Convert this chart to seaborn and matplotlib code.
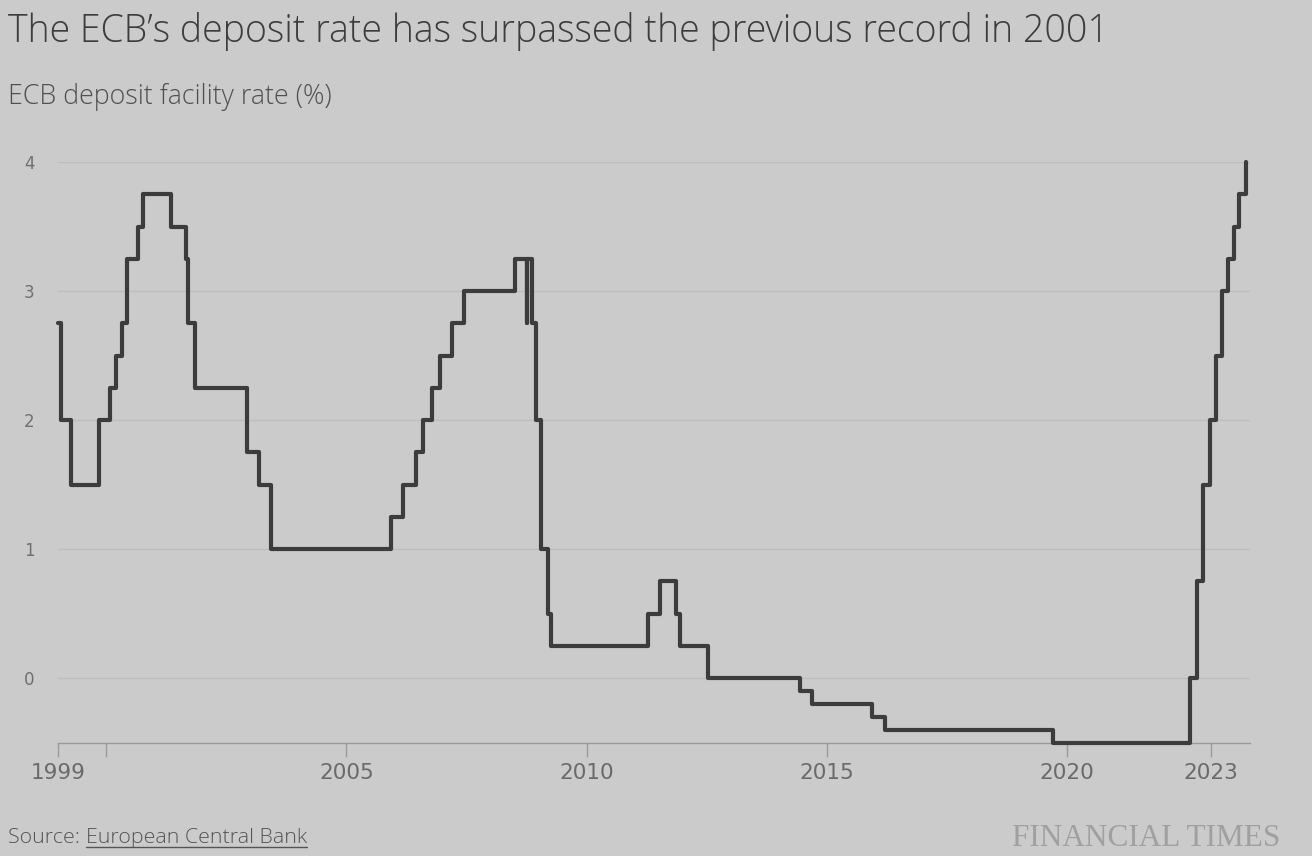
import matplotlib
matplotlib.use("Agg")
import matplotlib.pyplot as plt
import matplotlib.dates as mdates
from matplotlib.lines import Line2D
import pandas as pd
import seaborn as sns

# ECB policy decisions: date a new deposit rate took effect, and that rate (%)
change_dates = [
    "1999-01-04", "1999-01-22", "1999-04-09", "1999-11-05", "2000-02-04",
    "2000-03-17", "2000-04-28", "2000-06-09", "2000-09-01", "2000-10-06",
    "2001-05-11", "2001-08-31", "2001-09-18", "2001-11-09", "2002-12-06",
    "2003-03-07", "2003-06-06", "2005-12-06", "2006-03-08", "2006-06-15",
    "2006-08-09", "2006-10-11", "2006-12-13", "2007-03-14", "2007-06-13",
    "2008-07-09", "2008-10-08", "2008-10-09", "2008-11-12", "2008-12-10",
    "2009-01-21", "2009-03-11", "2009-04-08", "2011-04-13", "2011-07-13",
    "2011-11-09", "2011-12-14", "2012-07-11", "2014-06-11", "2014-09-10",
    "2015-12-09", "2016-03-16", "2019-09-18", "2022-07-27", "2022-09-14",
    "2022-11-02", "2022-12-21", "2023-02-08", "2023-03-22", "2023-05-10",
    "2023-06-21", "2023-08-02", "2023-09-20",
]
deposit_rate = [
    2.75, 2.00, 1.50, 2.00, 2.25,
    2.50, 2.75, 3.25, 3.50, 3.75,
    3.50, 3.25, 2.75, 2.25, 1.75,
    1.50, 1.00, 1.25, 1.50, 1.75,
    2.00, 2.25, 2.50, 2.75, 3.00,
    3.25, 2.75, 3.25, 2.75, 2.00,
    1.00, 0.50, 0.25, 0.50, 0.75,
    0.50, 0.25, 0.00, -0.10, -0.20,
    -0.30, -0.40, -0.50, 0.00, 0.75,
    1.50, 2.00, 2.50, 3.00, 3.25,
    3.50, 3.75, 4.00,
]

tick_years = [1999, 2000, 2005, 2010, 2015, 2020, 2023]
tick_labels = ["1999", "", "2005", "2010", "2015", "2020", "2023"]
y_ticks = [0, 1, 2, 3, 4]

title = "The ECB\u2019s deposit rate has surpassed the previous record in 2001"
subtitle = "ECB deposit facility rate (%)"

df = pd.DataFrame({"date": pd.to_datetime(change_dates), "rate": deposit_rate})

bg = "#cbcbcb"
sns.set_style("white", {"axes.facecolor": bg, "figure.facecolor": bg})
plt.rcParams["font.family"] = ["Open Sans", "DejaVu Sans"]

W, H = 1312, 856
fig = plt.figure(figsize=(W / 100, H / 100), dpi=100)
ax = fig.add_axes([58 / W, 1 - 742.5 / H, 1192 / W, (742.5 - 162) / H])

sns.lineplot(data=df, x="date", y="rate", ax=ax, drawstyle="steps-post",
             color="#3c3c3c", linewidth=3, clip_on=False, zorder=5)

ax.set_xlim(pd.Timestamp("1999-01-01"), pd.Timestamp("2023-10-24"))
ax.set_ylim(-0.5, 4)

ax.set_xticks([mdates.date2num(pd.Timestamp(f"{y}-01-01")) for y in tick_years])
ax.set_xticklabels(tick_labels, family=["DejaVu Sans"])
ax.set_yticks(y_ticks)
ax.set_yticklabels([str(v) for v in y_ticks], family=["DejaVu Sans"])
ax.set_xlabel("")
ax.set_ylabel("")

ax.grid(axis="y", color="#bebebe", linewidth=1)
ax.grid(axis="x", visible=False)
for side in ["left", "right", "top"]:
    ax.spines[side].set_visible(False)
ax.spines["bottom"].set_color("#9a9a9a")
ax.spines["bottom"].set_linewidth(1)

ax.tick_params(axis="x", length=10, width=1, color="#9a9a9a", labelsize=15.5,
               labelcolor="#6a6a6a", pad=5, bottom=True)
ax.tick_params(axis="y", length=0, labelsize=12, labelcolor="#707070", pad=17)

# titles
fig.text(8 / W, 1 - 12 / H, title, va="top", ha="left", fontsize=27,
         color="#3d3d3d", fontweight="light")
fig.text(8 / W, 1 - 83 / H, subtitle, va="top", ha="left", fontsize=19.3,
         color="#505050", fontweight="light")

# footer: source with underlined link text, FT mark on the right
src = fig.text(8 / W, 1 - 838 / H, "Source: ", va="center", ha="left",
               fontsize=15.4, color="#555555", fontweight="light")
renderer = fig.canvas.get_renderer()
bb = src.get_window_extent(renderer)
link = fig.text(bb.x1 / W, 1 - 838 / H, "European Central Bank", va="center",
                ha="left", fontsize=15.4, color="#555555", fontweight="light")
lb = link.get_window_extent(renderer)
fig.add_artist(Line2D([lb.x0 / W, lb.x1 / W], [(lb.y0 + 1) / H, (lb.y0 + 1) / H],
                      transform=fig.transFigure, color="#555555", linewidth=1))

fig.text(1280 / W, 1 - 838 / H, "FINANCIAL TIMES", va="center", ha="right",
         fontsize=22.5, color="#a0a0a0", family=["Liberation Serif"])

fig.savefig("out.png", dpi=100, facecolor=bg)
